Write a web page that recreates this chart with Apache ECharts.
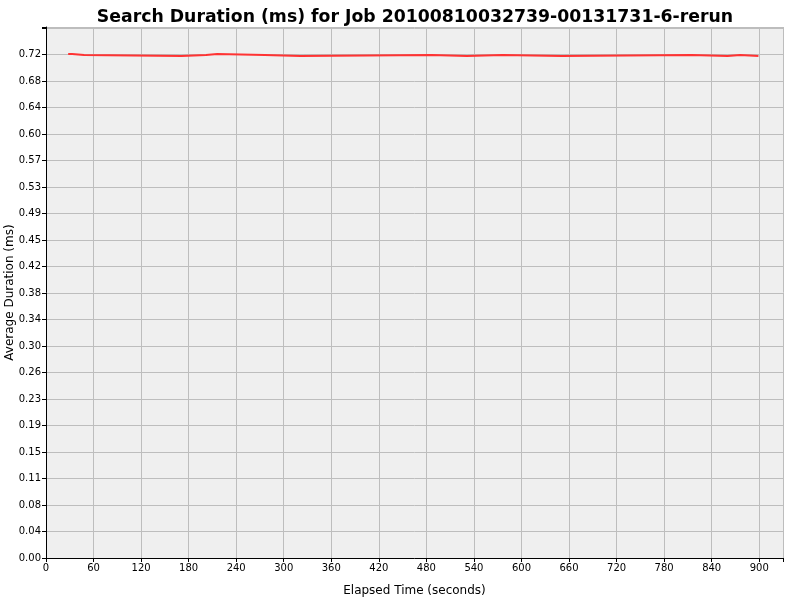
<!DOCTYPE html>
<html lang="en">

<head>
    <meta charset="UTF-8">
    <title>Search Duration</title>
    <script type="text/javascript" src="https://cdn.jsdelivr.net/npm/echarts@6/dist/echarts.min.js"></script>
    <style>
        * {
            margin: 0;
            padding: 0
        }

        html,
        body {
            width: 100%;
            height: 100%;
            background: #fff;
        }

        #main {
            width: 800px;
            height: 600px;
        }
    </style>
</head>

<body>
    <div id="main"></div>
    <script type="text/javascript">
        // elapsed seconds where each step starts, and its average duration (ms)
        var times = [28, 33, 48, 171, 202, 216, 276, 321, 487, 531, 576, 651, 815, 860, 876, 899];
        var durations = [0.7185, 0.7171, 0.7156, 0.7171, 0.7185, 0.7171, 0.7156, 0.7171, 0.7156,
            0.7171, 0.7156, 0.7171, 0.7156, 0.7171, 0.7156, 0.7156];

        var xMax = 930, xStep = 60;
        var yMax = 0.757, yStep = 0.03777;

        var points = times.map(function (t, i) { return [t, durations[i]]; });

        var myChart = echarts.init(document.getElementById('main'));
        var font = 'DejaVu Sans';
        var option = {
            animation: false,
            backgroundColor: '#ffffff',
            title: {
                text: 'Search Duration (ms) for Job 20100810032739-00131731-6-rerun',
                left: 410,
                textAlign: 'center',
                top: 4,
                textStyle: { fontFamily: font, fontSize: 17.3, fontWeight: 'bold', color: '#000' }
            },
            grid: {
                left: 46, right: 17, top: 27, bottom: 42,
                containLabel: false,
                outerBoundsMode: 'none',
                show: true,
                backgroundColor: '#efefef',
                borderWidth: 0
            },
            xAxis: {
                type: 'value',
                min: 0, max: xMax, interval: xStep,
                name: 'Elapsed Time (seconds)',
                nameLocation: 'middle',
                nameGap: 27,
                nameMoveOverlap: false,
                nameTextStyle: { fontFamily: font, fontSize: 12, color: '#000' },
                axisLine: { lineStyle: { color: '#000', width: 1 } },
                axisTick: { length: 4, lineStyle: { color: '#000' } },
                axisLabel: {
                    fontFamily: font, fontSize: 10, color: '#000', margin: 5,
                    formatter: function (v) { return v > 900 ? '' : String(v); }
                },
                splitLine: { show: true, lineStyle: { color: '#bdbdbd', width: 1 } }
            },
            yAxis: {
                type: 'value',
                min: 0, max: yMax, interval: yStep,
                name: 'Average Duration (ms)',
                nameLocation: 'middle',
                nameGap: 30,
                nameMoveOverlap: false,
                nameTextStyle: { fontFamily: font, fontSize: 12, color: '#000' },
                axisLine: { show: true, lineStyle: { color: '#000', width: 1 } },
                axisTick: { show: true, length: 4, lineStyle: { color: '#000' } },
                axisLabel: {
                    fontFamily: font, fontSize: 10, color: '#000', margin: 5,
                    formatter: function (v) { return v > 0.74 ? '' : v.toFixed(2); }
                },
                splitLine: { show: true, lineStyle: { color: '#bdbdbd', width: 1 } }
            },
            series: [
                {
                    name: 'Search Duration',
                    type: 'line',
                    step: 'end',
                    showSymbol: false,
                    data: points,
                    lineStyle: { color: '#ff3333', width: 2 },
                    itemStyle: { color: '#ff3333' }
                }
            ]
        };

        myChart.setOption(option);
    </script>
</body>

</html>
